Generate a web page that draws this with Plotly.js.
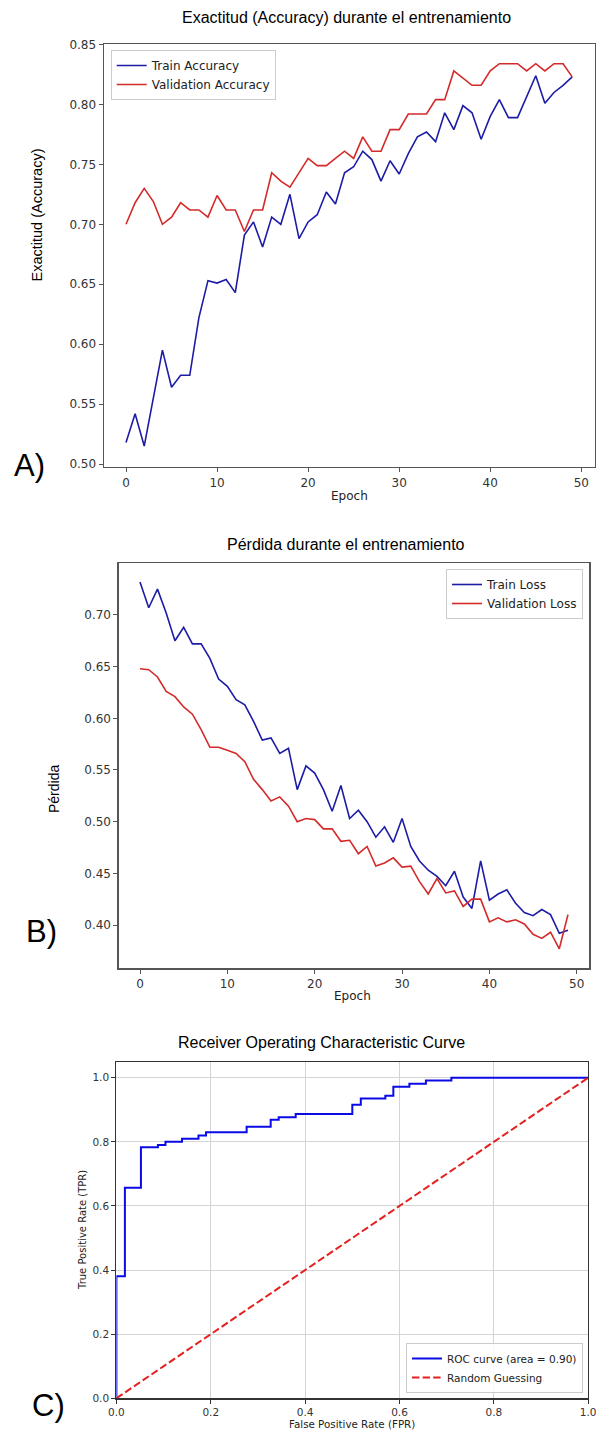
<!DOCTYPE html>
<html>
<head>
<meta charset="utf-8">
<script src="https://cdn.plot.ly/plotly-3.0.1.min.js"></script>
<style>html,body{margin:0;padding:0;background:#fff;}#chart{width:596px;height:1433px;}</style>
</head>
<body>
<div id="chart"></div>
<script>
// ---------- Data ----------
const epochs = [0,1,2,3,4,5,6,7,8,9,10,11,12,13,14,15,16,17,18,19,20,21,22,23,24,25,26,27,28,29,30,31,32,33,34,35,36,37,38,39,40,41,42,43,44,45,46,47,48,49];

const trainAccuracy = [0.518,0.542,0.515,0.555,0.595,0.564,0.574,0.574,0.622,0.653,0.651,0.654,0.643,0.691,0.702,0.681,0.706,0.700,0.725,0.688,0.702,0.708,0.727,0.717,0.743,0.748,0.761,0.754,0.736,0.753,0.742,0.759,0.773,0.777,0.769,0.793,0.779,0.799,0.793,0.771,0.790,0.804,0.789,0.789,0.807,0.824,0.801,0.810,0.816,0.823];
const valAccuracy = [0.700,0.718,0.730,0.719,0.700,0.706,0.718,0.712,0.712,0.706,0.724,0.712,0.712,0.694,0.712,0.712,0.743,0.736,0.731,0.743,0.755,0.749,0.749,0.755,0.761,0.755,0.773,0.761,0.761,0.779,0.779,0.792,0.792,0.792,0.804,0.804,0.828,0.822,0.816,0.816,0.828,0.834,0.834,0.834,0.828,0.834,0.828,0.834,0.834,0.823];

const trainLoss = [0.732,0.707,0.725,0.702,0.675,0.688,0.672,0.672,0.658,0.638,0.631,0.618,0.613,0.597,0.579,0.581,0.566,0.571,0.531,0.554,0.547,0.531,0.510,0.535,0.503,0.511,0.500,0.485,0.495,0.480,0.503,0.476,0.462,0.453,0.447,0.438,0.452,0.427,0.416,0.462,0.424,0.430,0.434,0.421,0.412,0.409,0.415,0.410,0.392,0.395];
const valLoss = [0.648,0.647,0.640,0.626,0.621,0.611,0.604,0.589,0.572,0.572,0.569,0.566,0.558,0.541,0.531,0.520,0.524,0.515,0.500,0.503,0.502,0.493,0.493,0.481,0.482,0.469,0.476,0.457,0.460,0.465,0.456,0.457,0.442,0.430,0.445,0.431,0.433,0.418,0.425,0.425,0.403,0.407,0.403,0.405,0.401,0.391,0.387,0.393,0.377,0.410];

const rocFpr = [0,0,0.018,0.052,0.088,0.104,0.139,0.174,0.190,0.276,0.327,0.344,0.380,0.500,0.518,0.570,0.587,0.621,0.656,0.710,1.0];
const rocTpr = [0,0.381,0.657,0.783,0.790,0.800,0.810,0.820,0.830,0.847,0.869,0.877,0.887,0.916,0.935,0.944,0.972,0.981,0.991,1.0,1.0];
const diagX = [0,1];
const diagY = [0,1];

const accXTicks = [0,10,20,30,40,50];
const accYTicks = [0.50,0.55,0.60,0.65,0.70,0.75,0.80,0.85];
const lossYTicks = [0.40,0.45,0.50,0.55,0.60,0.65,0.70];
const rocTicks = [0.0,0.2,0.4,0.6,0.8,1.0];

const titleA = 'Exactitud (Accuracy) durante el entrenamiento';
const titleB = 'Pérdida durante el entrenamiento';
const titleC = 'Receiver Operating Characteristic Curve';

// ---------- Layout helpers ----------
const W = 596, H = 1433;
const px = v => v / W;
const py = v => 1 - v / H;

const TRAIN_BLUE = '#1c1ca6';
const VAL_RED = '#d42a2a';
const ROC_BLUE = '#0a0ae6';
const DIAG_RED = '#e3211f';
const MPL = 'DejaVu Sans, sans-serif';
const ARIAL = 'Liberation Sans, Arial, sans-serif';

const traces = [
  {x: epochs, y: trainAccuracy, type: 'scatter', mode: 'lines', name: 'Train Accuracy',
   line: {color: TRAIN_BLUE, width: 1.6}, xaxis: 'x', yaxis: 'y', legend: 'legend'},
  {x: epochs, y: valAccuracy, type: 'scatter', mode: 'lines', name: 'Validation Accuracy',
   line: {color: VAL_RED, width: 1.6}, xaxis: 'x', yaxis: 'y', legend: 'legend'},
  {x: epochs, y: trainLoss, type: 'scatter', mode: 'lines', name: 'Train Loss',
   line: {color: TRAIN_BLUE, width: 1.6}, xaxis: 'x2', yaxis: 'y2', legend: 'legend2'},
  {x: epochs, y: valLoss, type: 'scatter', mode: 'lines', name: 'Validation Loss',
   line: {color: VAL_RED, width: 1.6}, xaxis: 'x2', yaxis: 'y2', legend: 'legend2'},
  {x: rocFpr, y: rocTpr, type: 'scatter', mode: 'lines', name: 'ROC curve (area = 0.90)',
   line: {color: ROC_BLUE, width: 2, shape: 'hv'}, xaxis: 'x3', yaxis: 'y3', legend: 'legend3'},
  {x: diagX, y: diagY, type: 'scatter', mode: 'lines', name: 'Random Guessing',
   line: {color: DIAG_RED, width: 2, dash: '7.4px,3.2px'}, xaxis: 'x3', yaxis: 'y3', legend: 'legend3'}
];

const frameColor = '#555555';
function axisBase(extra) {
  return Object.assign({
    showline: true, linecolor: frameColor, linewidth: 1.2, mirror: true,
    ticks: 'outside', ticklen: 4, tickwidth: 1, tickcolor: frameColor,
    showgrid: false, zeroline: false, ticklabeloverflow: 'allow',
    tickfont: {family: MPL, size: 12, color: '#333'}
  }, extra);
}

const legendBase = {
  bgcolor: 'rgba(255,255,255,0.85)', bordercolor: '#cccccc', borderwidth: 1,
  font: {family: MPL, size: 12, color: '#222'}, tracegroupgap: 0
};

function ann(text, x, y, size, family, extra) {
  return Object.assign({text: text, x: px(x), y: py(y), xref: 'paper', yref: 'paper',
    showarrow: false, xanchor: 'center', yanchor: 'middle',
    font: {family: family, size: size, color: '#000'}}, extra || {});
}

const layout = {
  width: W, height: H,
  margin: {l: 0, r: 0, t: 0, b: 0},
  paper_bgcolor: '#ffffff', plot_bgcolor: '#ffffff',
  showlegend: true,
  xaxis: axisBase({domain: [px(103.7), px(594.5)], range: [-2.45, 51.45], tickvals: accXTicks, anchor: 'y'}),
  yaxis: axisBase({domain: [py(467), py(44.3)], range: [0.4975, 0.8502], tickvals: accYTicks, tickformat: '.2f', anchor: 'x'}),
  xaxis2: axisBase({domain: [px(118.6), px(589.4)], range: [-2.45, 51.45], tickvals: accXTicks, anchor: 'y2'}),
  yaxis2: axisBase({domain: [py(968.3), py(563.3)], range: [0.3581, 0.7500], tickvals: lossYTicks, tickformat: '.2f', anchor: 'x2'}),
  xaxis3: axisBase({domain: [px(116.4), px(588.2)], range: [0, 1], tickvals: rocTicks, tickformat: '.1f', anchor: 'y3',
    showgrid: true, gridcolor: '#d4d4d4', gridwidth: 1, linecolor: '#333', tickcolor: '#333',
    tickfont: {family: MPL, size: 10.5, color: '#333'}}),
  yaxis3: axisBase({domain: [py(1398.3), py(1061.7)], range: [0, 1.05], tickvals: rocTicks, tickformat: '.1f', anchor: 'x3',
    showgrid: true, gridcolor: '#d4d4d4', gridwidth: 1, linecolor: '#333', tickcolor: '#333',
    tickfont: {family: MPL, size: 10.5, color: '#333'}}),
  legend: Object.assign({}, legendBase, {x: px(110.7), y: py(50), xanchor: 'left', yanchor: 'top'}),
  legend2: Object.assign({}, legendBase, {x: px(583), y: py(569), xanchor: 'right', yanchor: 'top'}),
  legend3: Object.assign({}, legendBase, {x: px(583), y: py(1393), xanchor: 'right', yanchor: 'bottom',
    font: {family: MPL, size: 10.5, color: '#222'}}),
  annotations: [
    ann(titleA, 346, 17, 16, ARIAL),
    ann(titleB, 346, 545, 16, ARIAL),
    ann(titleC, 321, 1042, 16, ARIAL),
    ann('Exactitud (Accuracy)', 37, 215.5, 14.5, ARIAL, {textangle: -90}),
    ann('Pérdida', 54, 789, 14, ARIAL, {textangle: -90}),
    ann('True Positive Rate (TPR)', 82, 1230, 10, MPL, {textangle: -90, font: {family: MPL, size: 10, color: '#222'}}),
    ann('Epoch', 349, 496, 12, MPL, {font: {family: MPL, size: 12, color: '#222'}}),
    ann('Epoch', 353, 996, 12, MPL, {font: {family: MPL, size: 12, color: '#222'}}),
    ann('False Positive Rate (FPR)', 352, 1424, 10, MPL, {font: {family: MPL, size: 10.3, color: '#222'}}),
    ann('A)', 29, 465, 31, ARIAL),
    ann('B)', 41, 931, 31, ARIAL),
    ann('C)', 48, 1405, 31, ARIAL)
  ]
};

Plotly.newPlot('chart', traces, layout, {staticPlot: true, displayModeBar: false});
</script>
</body>
</html>
